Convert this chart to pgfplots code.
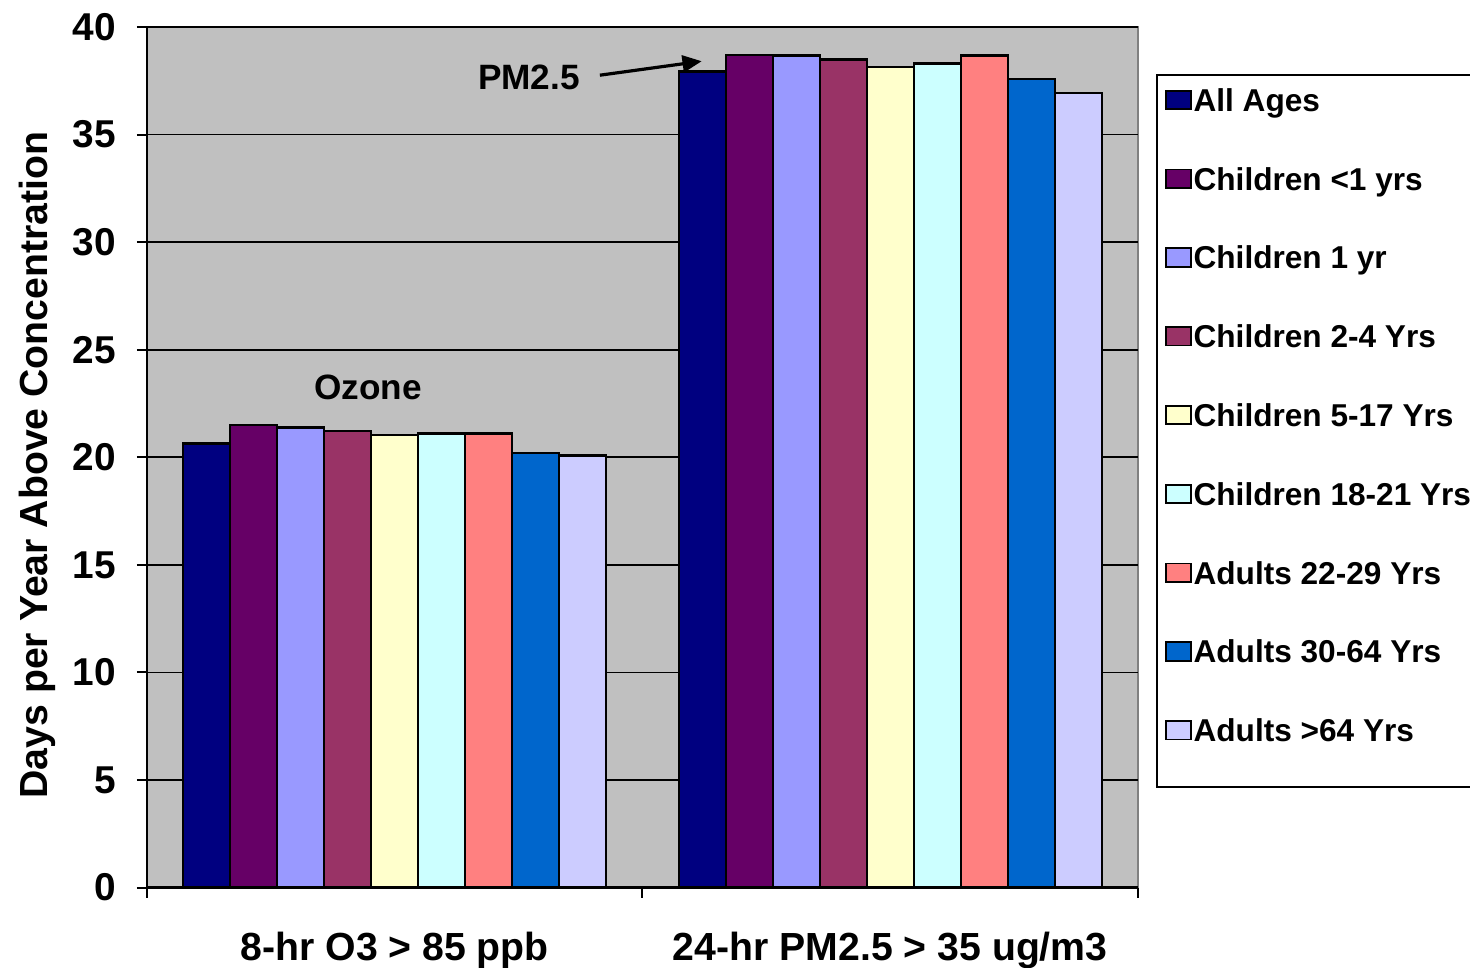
\documentclass[border=0pt]{standalone}
\usepackage{fontspec}
\setmainfont{Liberation Sans}
\usepackage{pgfplots}
\pgfplotsset{compat=1.18}
\usetikzlibrary{arrows.meta}
\definecolor{cA}{HTML}{000080}
\definecolor{cB}{HTML}{660066}
\definecolor{cC}{HTML}{9999FF}
\definecolor{cD}{HTML}{993366}
\definecolor{cE}{HTML}{FFFFCC}
\definecolor{cF}{HTML}{CCFFFF}
\definecolor{cG}{HTML}{FF8080}
\definecolor{cH}{HTML}{0066CC}
\definecolor{cI}{HTML}{CCCCFF}
\definecolor{bgsilver}{HTML}{C0C0C0}
\definecolor{edgegray}{HTML}{808080}
\begin{document}
\begin{tikzpicture}
\path[use as bounding box] (-36.75pt,-19.85pt) rectangle (330.75pt,221.9pt);
\begin{axis}[
  at={(0,0)}, anchor=south west,
  scale only axis, width=247.75pt, height=215.15pt,
  xmin=-0.5, xmax=1.5, ymin=0, ymax=40,
  clip=false,
  ybar=0pt, bar width=11.75pt,
  axis background/.style={fill=bgsilver, draw=edgegray, line width=0.5pt},
  axis x line*=bottom, axis y line*=left,
  axis line style={black, line width=0.6pt},
  tick align=outside, major tick length=2.5pt,
  tick style={black, line width=0.5pt},
  ytick={0,5,...,40},
  ymajorgrids, grid style={black, line width=0.45pt},
  xtick={-0.5,0.5,1.5}, xticklabels={},
  extra x ticks={0,1},
  extra x tick labels={8-hr O3 > 85 ppb, 24-hr PM2.5 > 35 ug/m3},
  extra x tick style={major tick length=0pt, grid=none},
  xticklabel style={font=\bfseries\fontsize{9.8}{11}\selectfont, yshift=-7.55pt},
  yticklabel style={font=\bfseries\fontsize{9.7}{11}\selectfont, xshift=-1.8pt},
  /pgf/number format/assume math mode=true,
  ylabel={Days per Year Above Concentration},
  ylabel style={at={(axis description cs:-0.111,0.491)}, anchor=center, font=\bfseries\fontsize{9.8}{11}\selectfont},
  legend cell align=left,
  legend style={at={(rel axis cs:1.0192,0.9442)}, anchor=north west, draw=none, fill=none,
    font=\bfseries\fontsize{7.9}{9}\selectfont, inner xsep=1.9pt, inner ysep=2.85pt, row sep=12pt,
    nodes={inner sep=0pt, text height=6pt, text depth=1.7pt},
    /tikz/every odd column/.style={column sep=0.5pt}},
  every axis plot/.append style={draw=black, line width=0.6pt,
    legend image code/.code={\draw[##1,draw=black,line width=0.45pt] (0pt,-1.6pt) rectangle (6.1pt,3.0pt);}},
]
\addplot[fill=cA] coordinates {(0,20.65) (1,37.93)};
\addlegendentry{All Ages}
\addplot[fill=cB] coordinates {(0,21.51) (1,38.70)};
\addlegendentry{Children <1 yrs}
\addplot[fill=cC] coordinates {(0,21.39) (1,38.68)};
\addlegendentry{Children 1 yr}
\addplot[fill=cD] coordinates {(0,21.22) (1,38.49)};
\addlegendentry{Children 2-4 Yrs}
\addplot[fill=cE] coordinates {(0,21.05) (1,38.15)};
\addlegendentry{Children 5-17 Yrs}
\addplot[fill=cF] coordinates {(0,21.11) (1,38.30)};
\addlegendentry{Children 18-21 Yrs}
\addplot[fill=cG] coordinates {(0,21.11) (1,38.68)};
\addlegendentry{Adults 22-29 Yrs}
\addplot[fill=cH] coordinates {(0,20.21) (1,37.59)};
\addlegendentry{Adults 30-64 Yrs}
\addplot[fill=cI] coordinates {(0,20.09) (1,36.94)};
\addlegendentry{Adults >64 Yrs}
\draw[black, line width=0.5pt, fill=white] (rel axis cs:1.0192,0.9442) rectangle (rel axis cs:1.4,0.1169);
\node[font=\bfseries\fontsize{8.8}{10}\selectfont] at (axis cs:-0.054,23.26) {Ozone};
\node[font=\bfseries\fontsize{8.8}{10}\selectfont] at (axis cs:0.271,37.67) {PM2.5};
\draw[-{Triangle[length=4.8pt,width=4.2pt]}, line width=0.8pt, black] (axis cs:0.414,37.76) -- (axis cs:0.6195,38.41);
\end{axis}
\end{tikzpicture}
\end{document}
